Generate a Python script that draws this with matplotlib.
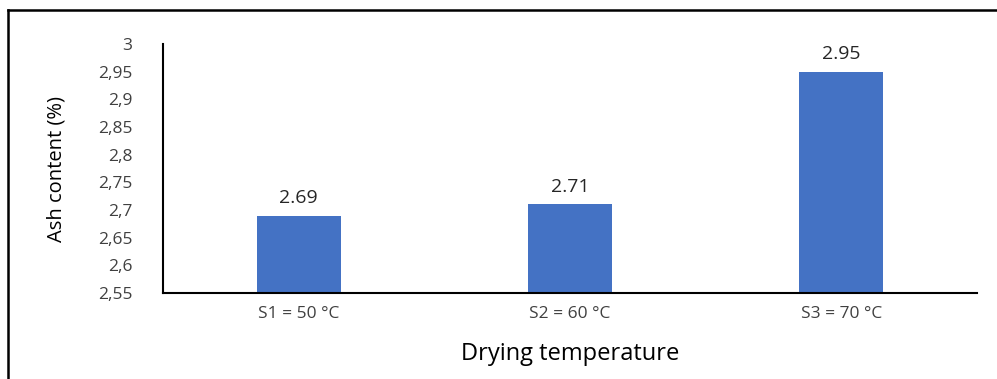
import matplotlib.pyplot as plt
from matplotlib.lines import Line2D

categories = ["S1 = 50 °C", "S2 = 60 °C", "S3 = 70 °C"]
ash = [2.69, 2.71, 2.95]
yticks = [2.55, 2.6, 2.65, 2.7, 2.75, 2.8, 2.85, 2.9, 2.95, 3.0]

plt.rcParams['font.family'] = ['Open Sans', 'DejaVu Sans']

fig = plt.figure(figsize=(9.97, 3.79), dpi=100)
ax = fig.add_axes([163/997, 1 - 293/379, (977 - 163)/997, (293 - 44)/379])

x = range(len(categories))
bars = ax.bar(x, ash, width=0.31, color="#4472C4")
for b, v in zip(bars, ash):
    ax.annotate(f"{v:.2f}", (b.get_x() + b.get_width()/2, v), xytext=(0, 6),
                textcoords="offset points", ha="center", va="bottom",
                fontsize=14, color="#262626")

ax.set_xlim(-0.5, 2.5)
ax.set_ylim(2.55, 3.0)
ax.set_xticks(list(x))
ax.set_xticklabels(categories, fontsize=12.5, color="#404040")
ax.set_yticks(yticks)
ax.set_yticklabels([f"{t:g}".replace(".", ",") for t in yticks], fontsize=12.5, color="#404040")
ax.tick_params(length=0)
ax.tick_params(axis="y", pad=22)
ax.tick_params(axis="x", pad=9)

for s in ["top", "right"]:
    ax.spines[s].set_visible(False)
for s in ["left", "bottom"]:
    ax.spines[s].set_linewidth(1.5)
    ax.spines[s].set_color("black")

ax.set_xlabel("Drying temperature", fontsize=17, labelpad=15)
ax.set_ylabel("Ash content (%)", fontsize=14.5, labelpad=23)

# outer frame (left and top edges visible in the image)
fig.add_artist(Line2D([8/997, 8/997], [0, 1 - 10/379], color="black", lw=1.8))
fig.add_artist(Line2D([8/997, 1], [1 - 10/379, 1 - 10/379], color="black", lw=1.8))

fig.savefig("out.png", dpi=100)
